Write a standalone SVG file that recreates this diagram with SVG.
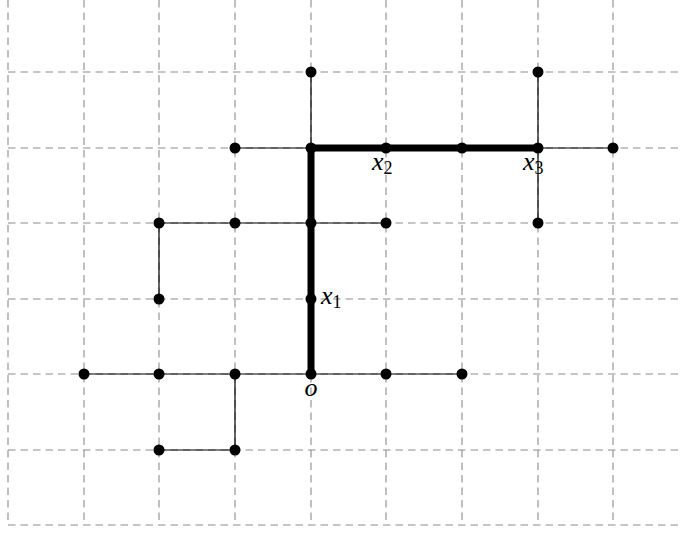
<svg xmlns="http://www.w3.org/2000/svg" width="683" height="533" viewBox="0 0 683 533">
<style>
.grid line{stroke:#8c8c8c;stroke-width:1.1;stroke-dasharray:7.5 5}
.thin{stroke:#000;stroke-width:1.2;fill:none}
.thick{stroke:#000;stroke-width:7;fill:none;stroke-linecap:butt;stroke-linejoin:miter}
.dot{fill:#000}
.lbl{font-family:"Liberation Serif",serif;font-style:italic;font-size:26px;fill:#000}
.sub{font-family:"Liberation Serif",serif;font-style:normal;font-size:18px}
</style>
<rect width="683" height="533" fill="#fff"/>
<g class="grid" id="grid">
<line x1="8" y1="0" x2="8" y2="525"/>
<line x1="84" y1="0" x2="84" y2="525"/>
<line x1="159" y1="0" x2="159" y2="525"/>
<line x1="235" y1="0" x2="235" y2="525"/>
<line x1="311" y1="0" x2="311" y2="525"/>
<line x1="386" y1="0" x2="386" y2="525"/>
<line x1="462" y1="0" x2="462" y2="525"/>
<line x1="538" y1="0" x2="538" y2="525"/>
<line x1="613" y1="0" x2="613" y2="525"/>
<line x1="8" y1="72" x2="683" y2="72"/>
<line x1="8" y1="148" x2="683" y2="148"/>
<line x1="8" y1="223" x2="683" y2="223"/>
<line x1="8" y1="299" x2="683" y2="299"/>
<line x1="8" y1="374" x2="683" y2="374"/>
<line x1="8" y1="450" x2="683" y2="450"/>
<line x1="8" y1="525" x2="683" y2="525"/>
</g>
<g id="connectors">
<path class="thin" d="M311,72V148M538,72V223M235,148H311M538,148H613M159,223H386M159,223V299M84,374H462M235,374V450H159"/>
<path class="thick" d="M311,374V148H538"/>
</g>
<g id="n0_4"><circle class="dot" cx="311" cy="72" r="5.5"/></g>
<g id="n3_4"><circle class="dot" cx="538" cy="72" r="5.5"/></g>
<g id="nm1_3"><circle class="dot" cx="235" cy="148" r="5.5"/></g>
<g id="n0_3"><circle class="dot" cx="311" cy="148" r="5.5"/></g>
<g id="x2"><circle class="dot" cx="386" cy="148" r="5.5"/><text class="lbl" x="372" y="170">x<tspan class="sub" dy="4">2</tspan></text></g>
<g id="n2_3"><circle class="dot" cx="462" cy="148" r="5.5"/></g>
<g id="x3"><circle class="dot" cx="538" cy="148" r="5.5"/><text class="lbl" x="523" y="170">x<tspan class="sub" dy="4">3</tspan></text></g>
<g id="n4_3"><circle class="dot" cx="613" cy="148" r="5.5"/></g>
<g id="nm2_2"><circle class="dot" cx="159" cy="223" r="5.5"/></g>
<g id="nm1_2"><circle class="dot" cx="235" cy="223" r="5.5"/></g>
<g id="n0_2"><circle class="dot" cx="311" cy="223" r="5.5"/></g>
<g id="n1_2"><circle class="dot" cx="386" cy="223" r="5.5"/></g>
<g id="n3_2"><circle class="dot" cx="538" cy="223" r="5.5"/></g>
<g id="nm2_1"><circle class="dot" cx="159" cy="299" r="5.5"/></g>
<g id="x1"><circle class="dot" cx="311" cy="299" r="5.5"/><text class="lbl" x="321" y="304">x<tspan class="sub" dy="4">1</tspan></text></g>
<g id="nm3_0"><circle class="dot" cx="84" cy="374" r="5.5"/></g>
<g id="nm2_0"><circle class="dot" cx="159" cy="374" r="5.5"/></g>
<g id="nm1_0"><circle class="dot" cx="235" cy="374" r="5.5"/></g>
<g id="o"><circle class="dot" cx="311" cy="374" r="5.5"/><text class="lbl" x="311" y="396" text-anchor="middle">o</text></g>
<g id="n1_0"><circle class="dot" cx="386" cy="374" r="5.5"/></g>
<g id="n2_0"><circle class="dot" cx="462" cy="374" r="5.5"/></g>
<g id="nm2_m1"><circle class="dot" cx="159" cy="450" r="5.5"/></g>
<g id="nm1_m1"><circle class="dot" cx="235" cy="450" r="5.5"/></g>
</svg>
